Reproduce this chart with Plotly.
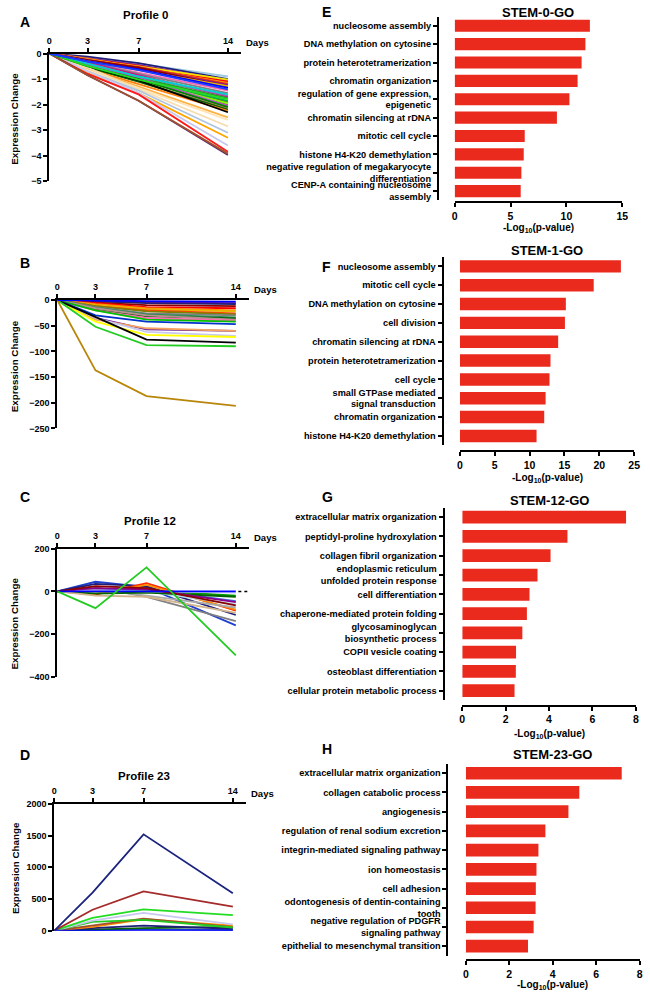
import plotly.graph_objects as go

W, H = 650, 1000
def PX(v):
    return v / W
def PY(v):
    return 1 - v / H

FONT = "Liberation Sans, Arial, sans-serif"

# ---------------- data ----------------
days = [0, 3, 7, 14]
day_ticks = [0, 3, 7, 14]

profile0_values = [
    [0, -0.15, -0.40, -0.90], [0, -0.12, -0.38, -1.00], [0, -0.18, -0.45, -1.05],
    [0, -0.22, -0.48, -1.10], [0, -0.25, -0.50, -1.02], [0, -0.20, -0.55, -1.15],
    [0, -0.28, -0.52, -1.20], [0, -0.24, -0.58, -1.25], [0, -0.26, -0.55, -1.30],
    [0, -0.30, -0.65, -1.28], [0, -0.35, -0.75, -1.45], [0, -0.35, -0.80, -1.55],
    [0, -0.35, -0.85, -1.70], [0, -0.40, -0.90, -1.65], [0, -0.40, -0.95, -1.90],
    [0, -0.45, -1.00, -2.00], [0, -0.45, -0.95, -1.75], [0, -0.50, -1.00, -1.85],
    [0, -0.55, -1.05, -1.95], [0, -0.45, -0.95, -2.05], [0, -0.50, -1.10, -2.15],
    [0, -0.55, -1.10, -2.20], [0, -0.60, -1.20, -2.25], [0, -0.50, -1.05, -2.30],
    [0, -0.60, -1.30, -2.50], [0, -0.65, -1.35, -2.60], [0, -0.55, -1.40, -2.85],
    [0, -0.70, -1.45, -3.10], [0, -0.75, -1.55, -3.30], [0, -0.70, -1.55, -3.60],
    [0, -0.80, -1.60, -3.85], [0, -0.85, -1.85, -3.97], [0, -0.85, -1.85, -3.92],
    [0, -0.40, -0.90, -1.60], [0, -0.50, -1.00, -2.10], [0, -0.48, -1.02, -1.80],
    [0, -0.30, -0.62, -1.35], [0, -0.32, -0.65, -1.40],
]
profile0_colors = [
    "#9ecae1", "#1f1f7a", "#7b3294", "#ff0000", "#f5e400", "#ff8c00",
    "#d62728", "#6a0dad", "#8b0000", "#e6b800", "#ff69b4", "#808080",
    "#c71585", "#9467bd", "#808000", "#8c564b", "#2ca02c", "#00b050",
    "#7fff00", "#b452cd", "#fa8072", "#006400", "#ff7f0e", "#000000",
    "#ffb347", "#ffe4b5", "#f5deb3", "#b0c4de", "#ffa500", "#c8c8f0",
    "#ff1a1a", "#5b2c6f", "#a0522d", "#00ced1", "#008000", "#22dd22",
    "#0000ff", "#1e3cff",
]

profile1_values = [
    [0, -2, -4, -6], [0, -3, -6, -8], [0, -5, -10, -12], [0, -6, -14, -16],
    [0, -8, -16, -20], [0, -10, -18, -22], [0, -12, -20, -26], [0, -12, -22, -28],
    [0, -14, -26, -30], [0, -15, -28, -34], [0, -18, -32, -36], [0, -16, -30, -38],
    [0, -20, -35, -40], [0, -20, -38, -42], [0, -30, -42, -47], [0, -35, -57, -60],
    [0, -38, -55, -60], [0, -35, -62, -70], [0, -42, -68, -72], [0, -33, -77, -83],
    [0, -52, -88, -90], [0, -137, -187, -206], [0, -1, -2, -3],
]
profile1_colors = [
    "#6a0dad", "#1f1f7a", "#8b0000", "#ff0000", "#ff8c00", "#e6b800",
    "#ff4500", "#808000", "#808080", "#2e8b57", "#006400", "#bc8f8f",
    "#ff69b4", "#00c000", "#0033cc", "#6a1b9a", "#f4a460", "#c8c8f0",
    "#ffff00", "#000000", "#22cc22", "#b8860b", "#0000ff",
]

profile12_values = [
    [0, 45, 20, -158], [0, 20, -25, -138], [0, 35, 25, -110], [0, -15, 38, -90],
    [0, -10, 30, -85], [0, 10, -20, -75], [0, 0, 0, -60], [0, 5, 10, -45],
    [0, 0, 5, -20], [0, -10, -5, -25], [0, 5, 0, -5], [0, -20, -25, -100],
    [0, 15, 10, -50], [0, 25, 15, -65], [0, 0, 0, 0], [0, -78, 112, -298],
]
profile12_colors = [
    "#1f3fd0", "#808080", "#1f1f7a", "#ff2a00", "#ff8c00", "#a9a9a9",
    "#add8e6", "#4169e1", "#00a000", "#006400", "#c8c8f0", "#d2b48c",
    "#8b008b", "#8b0000", "#0000ff", "#22cc22",
]

profile23_values = [
    [0, 10, 20, 10], [0, 20, 40, 60], [0, 40, 80, 30], [0, 60, 180, 80],
    [0, 80, 190, 60], [0, 140, 170, 50], [0, 160, 280, 100], [0, 200, 335, 245],
    [0, 330, 620, 380], [0, 600, 1520, 590], [0, 0, 0, 0],
]
profile23_colors = [
    "#1f3fd0", "#006400", "#1f1f7a", "#ff8c00", "#a0522d", "#22cc22",
    "#c8c8f0", "#22dd22", "#a52a2a", "#1a237e", "#0000ff",
]

go0_terms = [
    "nucleosome assembly", "DNA methylation on cytosine", "protein heterotetramerization",
    "chromatin organization", "regulation of gene expression,<br>epigenetic",
    "chromatin silencing at rDNA", "mitotic cell cycle", "histone H4-K20 demethylation",
    "negative regulation of megakaryocyte<br>differentiation",
    "CENP-A containing nucleosome<br>assembly",
]
go0_values = [12.1, 11.7, 11.36, 11.0, 10.27, 9.15, 6.27, 6.18, 5.97, 5.91]

go1_terms = [
    "nucleosome assembly", "mitotic cell cycle", "DNA methylation on cytosine",
    "cell division", "chromatin silencing at rDNA", "protein heterotetramerization",
    "cell cycle", "small GTPase mediated<br>signal transduction",
    "chromatin organization", "histone H4-K20 demethylation",
]
go1_values = [23.1, 19.2, 15.2, 15.07, 14.1, 13.0, 12.86, 12.3, 12.1, 11.0]

go12_terms = [
    "extracellular matrix organization", "peptidyl-proline hydroxylation",
    "collagen fibril organization", "endoplasmic reticulum<br>unfolded protein response",
    "cell differentiation", "chaperone-mediated protein folding",
    "glycosaminoglycan<br>biosynthetic process", "COPII vesicle coating",
    "osteoblast differentiation", "cellular protein metabolic process",
]
go12_values = [7.55, 4.85, 4.07, 3.47, 3.1, 2.98, 2.77, 2.48, 2.47, 2.41]

go23_terms = [
    "extracellular matrix organization", "collagen catabolic process", "angiogenesis",
    "regulation of renal sodium excretion", "integrin-mediated signaling pathway",
    "ion homeostasis", "cell adhesion", "odontogenesis of dentin-containing<br>tooth",
    "negative regulation of PDGFR<br>signaling pathway",
    "epithelial to mesenchymal transition",
]
go23_values = [7.17, 5.22, 4.72, 3.66, 3.34, 3.25, 3.22, 3.21, 3.12, 2.86]

BAR_COLOR = "#eb2a1e"

fig = go.Figure()
layout = dict(
    width=W, height=H, margin=dict(l=0, r=0, t=0, b=0),
    paper_bgcolor="white", plot_bgcolor="white", showlegend=False,
    font=dict(family=FONT, color="black", size=9, weight="bold"),
)
annotations = []

def ann(text, x, y, size, xanchor="center", angle=0):
    annotations.append(dict(
        text=text, x=PX(x), y=PY(y), xref="paper", yref="paper",
        xanchor=xanchor, yanchor="middle", showarrow=False, textangle=angle,
        font=dict(family=FONT, size=size, color="black", weight="bold"),
    ))

axis_common = dict(
    showline=True, linecolor="black", linewidth=2, ticks="outside",
    ticklen=4, tickwidth=2, tickcolor="black", showgrid=False, zeroline=False,
)

# ---------------- line panels ----------------
line_panels = [
    (profile0_values, profile0_colors, 47, 49, 178, [-5, 0], 1, "Profile 0", (15, 17), (145, 10), 115),
    (profile1_values, profile1_colors, 55, 298, 427.7, [-250, 0], 50, "Profile 1", (15, 261), (150, 269), 365),
    (profile12_values, profile12_colors, 55, 549, 679, [-400, 200], 200, "Profile 12", (15, 497), (149, 521), 625),
    (profile23_values, profile23_colors, 52, 807, 935, [0, 2000], 500, "Profile 23", (15, 758), (143, 779), 872),
]
letters_left = ["A", "B", "C", "D"]

for i, (vals, cols, xl, yt, yb, yr, dt, title, lpos, tpos, ytt) in enumerate(line_panels):
    n = i + 1
    xa = "x" if n == 1 else f"x{n}"
    ya = "y" if n == 1 else f"y{n}"
    for v, c in zip(vals, cols):
        fig.add_trace(go.Scatter(
            x=days, y=v, mode="lines", line=dict(color=c, width=1.8),
            xaxis=xa, yaxis=ya, hoverinfo="skip",
        ))
    if n == 3:
        fig.add_trace(go.Scatter(
            x=[14.2, 14.9], y=[0, 0], mode="lines",
            line=dict(color="black", width=1.5, dash="dot"),
            xaxis=xa, yaxis=ya, hoverinfo="skip",
        ))
    xr = xl + 194
    layout[f"xaxis{'' if n == 1 else n}"] = dict(
        axis_common, domain=[PX(xl), PX(xr)], range=[0, 15], side="top",
        tickvals=day_ticks, anchor=ya,
        tickfont=dict(family=FONT, size=9, weight="bold"),
    )
    layout[f"yaxis{'' if n == 1 else n}"] = dict(
        axis_common, domain=[PY(yb), PY(yt)], range=yr, dtick=dt, anchor=xa,
        tickfont=dict(family=FONT, size=9, weight="bold"),
    )
    ann(letters_left[i], lpos[0], lpos[1], 14, xanchor="left")
    ann(title, tpos[0], tpos[1], 11.5)
    ann("Expression Change", 12, ytt, 9.8, angle=-90)
    ann("Days", xr + 3, yt - 11, 9.5, xanchor="left")

# ---------------- bar panels ----------------
bar_panels = [
    (go0_terms, go0_values, 441, 11.7, 197.3, 458, 628, 199, 15, 5, "STEM-0-GO", 8, 225, 7, "E"),
    (go1_terms, go1_values, 445.7, 254.5, 444.8, 463.3, 640, 450.7, 25, 5, "STEM-1-GO", 248, 478, 265, "F"),
    (go12_terms, go12_values, 446.7, 507.6, 702.4, 465.7, 641.7, 707.7, 8, 2, "STEM-12-GO", 501, 736, 497, "G"),
    (go23_terms, go23_values, 450.7, 766.3, 960.4, 469.3, 645.7, 965, 8, 2, "STEM-23-GO", 757, 990, 752, "H"),
]

for j, (terms, vals, ylx, yt, yb, xl, xr, xly, xmax, dt, title, ty, xty, ly, letter) in enumerate(bar_panels):
    n = 5 + j
    xa, ya = f"x{n}", f"y{n}"
    fig.add_trace(go.Bar(
        x=vals, y=terms, orientation="h", marker=dict(color=BAR_COLOR, line=dict(width=0)),
        width=0.66, xaxis=xa, yaxis=ya, hoverinfo="skip",
    ))
    layout[f"xaxis{n}"] = dict(
        axis_common, domain=[PX(xl), PX(xr)], range=[0, xmax], dtick=dt,
        anchor="free", position=PY(xly),
        tickfont=dict(family=FONT, size=10.5, weight="bold"),
    )
    layout[f"yaxis{n}"] = dict(
        axis_common, domain=[PY(yb), PY(yt)], type="category",
        categoryorder="array", categoryarray=terms, range=[9.5, -0.5],
        anchor="free", position=PX(ylx),
        tickfont=dict(family=FONT, size=9.2, weight="bold"),
    )
    ann(letter, 321, ly, 14, xanchor="left")
    ann(title, (xl + xr) / 2, ty, 13)
    ann("-Log<sub>10</sub>(p-value)", (xl + xr) / 2, xty, 10)

layout["annotations"] = annotations
fig.update_layout(**layout)
fig.write_html(
    "out.html",
    config={"displayModeBar": False, "staticPlot": True},
    post_script="document.body.style.margin='0px';document.body.style.overflow='hidden';",
)
